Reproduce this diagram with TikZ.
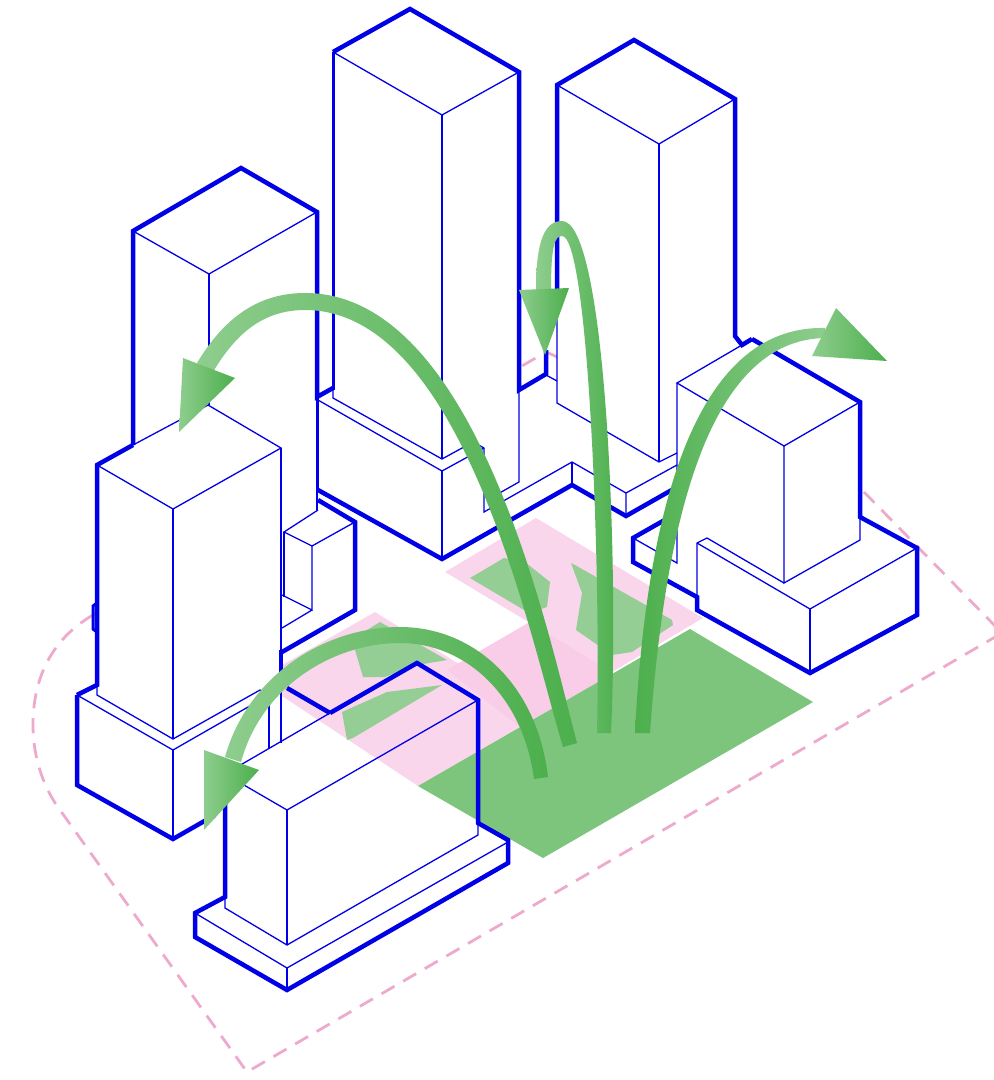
\documentclass[tikz,border=0pt]{standalone}
\definecolor{massblue}{RGB}{0,0,230}
\definecolor{sitepink}{RGB}{238,170,205}
\definecolor{plazapink}{RGB}{250,214,236}
\definecolor{linkpink}{RGB}{249,204,231}
\definecolor{plazagreen}{RGB}{125,196,125}
\definecolor{patchgreen}{RGB}{148,206,148}
\definecolor{flowdark}{RGB}{76,175,76}
\definecolor{flowlight}{RGB}{142,205,142}
\usepackage{tikz}
\tikzset{
    thickedge/.style={draw=massblue, line width=4.5pt, line join=miter},
    midedge/.style={draw=massblue, line width=3pt},
    thinedge/.style={draw=massblue, line width=1.3pt},
    massfill/.style={fill=white},
    sitedash/.style={draw=sitepink, line width=2.8pt, dash pattern=on 15pt off 10pt},
    flowshaft/.style={left color=flowlight, middle color=flowdark, right color=flowdark},
    flowhead/.style={left color=flowlight, right color=flowdark}
}

\begin{document}
\begin{tikzpicture}[x=1pt,y=-1pt]
    \useasboundingbox[fill=white] (0,0) rectangle (994,1080);

    \draw[sitedash] (93,615) .. controls (50,640) and (33,680) .. (33,725)
        .. controls (33,760) and (45,790) .. (60,810) -- (247,1072) -- (1002,633) -- (862,490) -- (546,352) -- (93,615);

    \fill[plazapink] (375,612) -- (530,708) -- (530,721) -- (418,786) -- (270,688) -- (270,672) -- cycle;
    \fill[linkpink] (447,670) -- (528,623) -- (597,660) -- (612,674) -- (520,727) -- cycle;
    \fill[plazapink] (536,518) -- (703,618) -- (612,672) -- (445,572) -- cycle;
    \fill[plazagreen] (690,629) -- (813,702) -- (543,858) -- (418,786) -- cycle;

    \fill[patchgreen] (470,578) -- (504,558) -- (525,562) -- (550,582) -- (547,607) -- (529,613) -- cycle;
    \fill[patchgreen] (571,563) -- (575,565) -- (672,620) -- (673,625) -- (632,652) -- (612,655) -- (576,630) -- (582,593) -- cycle;
    \fill[patchgreen] (380,622) -- (447,660) -- (417,665) -- (385,677) -- (363,677) -- (355,650) -- (367,630) -- cycle;
    \fill[patchgreen] (342,712) -- (387,692) -- (442,685) -- (353,738) -- (347,740) -- cycle;

    \fill[massfill] (133,231) -- (241,168) -- (317,212) -- (317,510) -- (133,510) -- cycle;
    \fill[massfill] (333,52) -- (410,9) -- (519,72) -- (519,390) -- (546,375) -- (557,380) -- (557,85) -- (634,40) -- (735,99) -- (735,470) -- (677,487) -- (626,516) -- (572,485) -- (442,559) -- (318,490) -- (318,400) -- (333,390) -- cycle;
    \fill[massfill] (281,500) -- (318,500) -- (355,522) -- (355,610) -- (282,650) -- cycle;
    \fill[massfill] (97,465) -- (208,405) -- (281,448) -- (281,743) -- (173,839) -- (77,785) -- (77,695) -- (97,685) -- cycle;
    \fill[massfill] (677,383) -- (752,339) -- (860,402) -- (860,517) -- (917,548) -- (917,615) -- (810,673) -- (697,610) -- (697,597) -- (633,562) -- (633,538) -- (677,515) -- cycle;

    % back left tower
    \draw[thickedge] (133,445) -- (133,231) -- (241,168) -- (317,212) -- (317,397) -- (333,388);
    \draw[thinedge] (133,231) -- (209,274) -- (317,212);
    \draw[thinedge] (209,274) -- (209,405);
    \draw[thinedge] (317,397) -- (317,510);

    % back middle tower and its podium
    \draw[midedge] (333,390) -- (333,52);
    \draw[thickedge] (333,52) -- (410,9) -- (519,72) -- (519,390) -- (546,374) -- (546,350);
    \draw[thinedge] (333,52) -- (442,115) -- (519,72);
    \draw[thinedge] (442,115) -- (442,459);
    \draw[thinedge] (333,390) -- (333,398) -- (442,459) -- (473,442) -- (484,448) -- (484,512) -- (572,462) -- (626,493) -- (626,516);
    \draw[thinedge] (318,400) -- (442,471) -- (484,448);
    \draw[thinedge] (318,397) -- (318,490);
    \draw[thinedge] (442,471) -- (442,559);
    \draw[thinedge] (519,390) -- (519,482) -- (496,495);
    \draw[thinedge] (572,462) -- (572,485);
    \draw[thinedge] (546,375) -- (557,381);
    \draw[thickedge] (318,490) -- (442,559) -- (572,485) -- (626,516) -- (677,487);

    % back right tower
    \draw[thickedge] (557,290) -- (557,85) -- (634,40) -- (735,99) -- (735,336) -- (742,345) -- (752,339);
    \draw[thinedge] (557,85) -- (659,144) -- (735,99);
    \draw[thinedge] (659,144) -- (659,462);
    \draw[thinedge] (557,290) -- (557,403) -- (659,462) -- (677,453);
    \draw[thinedge] (626,493) -- (677,465);

    % small block behind the left tower
    \draw[thickedge] (318,500) -- (355,522) -- (355,610) -- (282,652);
    \draw[thinedge] (318,510) -- (284,532) -- (312,546) -- (355,522);
    \draw[thinedge] (312,546) -- (312,610) -- (282,595);
    \draw[thinedge] (284,532) -- (284,597);
    \draw[thinedge] (312,610) -- (282,628);

    % front left tower
    \draw[thickedge] (77,695) -- (97,685) -- (97,465) -- (133,445);
    \draw[midedge] (97,603) -- (93,606) -- (93,629) -- (97,632);
    \draw[thinedge] (133,445) -- (208,405) -- (281,448) -- (173,509) -- (97,465);
    \draw[thinedge] (173,509) -- (173,739);
    \draw[thinedge] (281,448) -- (281,652);
    \draw[thickedge] (281,650) -- (281,678);
    \draw[thinedge] (281,678) -- (281,743);
    \draw[thinedge] (97,685) -- (97,695) -- (173,739) -- (260,690) -- (269,695) -- (173,750) -- (77,695);
    \draw[thinedge] (269,695) -- (269,749);
    \draw[thinedge] (173,750) -- (173,839);
    \draw[thickedge] (77,695) -- (77,785) -- (173,839) -- (215,815);

    % right building
    \draw[thickedge] (752,339) -- (860,402) -- (860,517) -- (917,548) -- (917,615) -- (810,673) -- (697,610) -- (697,597) -- (633,562) -- (633,538) -- (677,513);
    \draw[thinedge] (742,345) -- (677,383) -- (784,446) -- (860,402);
    \draw[thinedge] (677,383) -- (677,563) -- (633,538);
    \draw[thinedge] (784,446) -- (784,583) -- (860,540) -- (860,517);
    \draw[thinedge] (697,597) -- (697,543) -- (707,538) -- (784,583);
    \draw[thinedge] (697,543) -- (810,609) -- (917,548);
    \draw[thinedge] (810,609) -- (810,673);

    % front block
    \draw[thickedge] (330,713) -- (417,663) -- (478,700) -- (478,823) -- (508,840) -- (508,863) -- (287,990) -- (195,937) -- (195,913) -- (225,897) -- (225,774);
    \draw[thickedge] (287,688) -- (330,713);
    \draw[thinedge] (225,774) -- (330,713);
    \draw[thinedge] (225,774) -- (287,810) -- (478,700);
    \draw[thinedge] (287,810) -- (287,945);
    \draw[thinedge] (225,897) -- (225,908) -- (287,945) -- (478,835) -- (478,823);
    \draw[thinedge] (195,913) -- (287,968) -- (508,842);
    \draw[thinedge] (287,968) -- (287,990);

    % flows
    \shade[flowshaft] (577,743) .. controls (549,638) and (478,293) .. (305,293)
        .. controls (252,293) and (220,325) .. (197,363) -- (213,372)
        .. controls (235,335) and (262,310) .. (305,310)
        .. controls (464,310) and (531,642) .. (563,747) -- cycle;
    \shade[flowhead] (183,358) -- (235,378) -- (179,432) -- cycle;

    \shade[flowshaft] (611,733) .. controls (619,560) and (606,221) .. (562,221)
        .. controls (545,221) and (536,240) .. (536,290) -- (551,290)
        .. controls (551,245) and (555,236) .. (562,236)
        .. controls (588,236) and (601,560) .. (597,733) -- cycle;
    \shade[flowhead] (519,290) -- (569,288) -- (545,355) -- cycle;

    \shade[left color=flowdark, middle color=flowdark, right color=flowlight] (635,733) .. controls (646,515) and (693,325) .. (825,328)
        -- (825,338) .. controls (707,340) and (665,525) .. (650,733) -- cycle;
    \shade[flowhead] (836,308) -- (887,361) -- (812,356) -- cycle;

    \shade[flowshaft] (548,777) .. controls (537,683) and (473,627) .. (400,627)
        .. controls (325,627) and (248,675) .. (225,757) -- (241,762)
        .. controls (262,685) and (335,643) .. (400,643)
        .. controls (465,643) and (523,695) .. (534,779) -- cycle;
    \shade[flowhead] (204,750) -- (259,770) -- (204,830) -- cycle;
\end{tikzpicture}
\end{document}
